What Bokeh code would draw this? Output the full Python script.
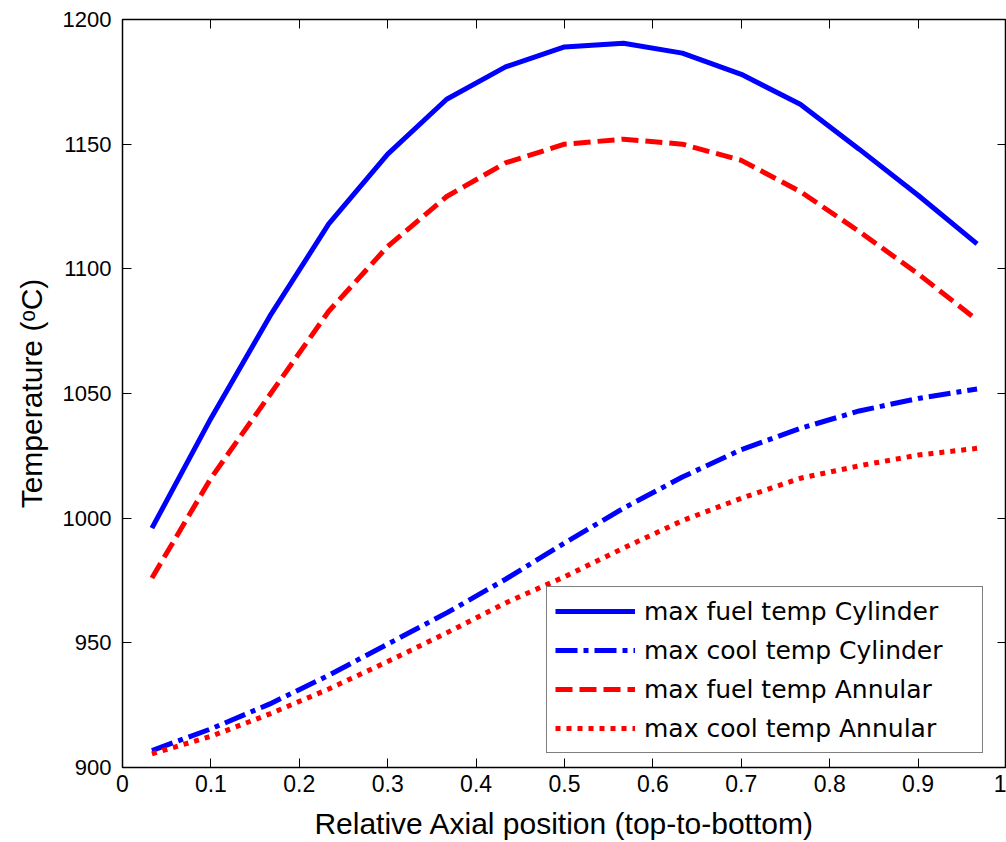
from bokeh.plotting import figure
from bokeh.models import Range1d, FixedTicker, LinearAxis, Legend, LegendItem
from bokeh.embed import file_html
from bokeh.resources import INLINE

# ---- data ----
x_pos = [0.0333, 0.1, 0.1667, 0.2333, 0.3, 0.3667, 0.4333, 0.5,
         0.5667, 0.6333, 0.7, 0.7667, 0.8333, 0.9, 0.9667]
fuel_cyl = [996, 1040, 1081, 1118, 1146, 1168, 1181, 1189,
            1190.5, 1186.5, 1178, 1166, 1148, 1129.5, 1110]
cool_cyl = [906.8, 915.5, 925.5, 937, 949.5, 962, 975.5, 990,
            1004, 1016.5, 1027.5, 1036, 1043, 1048, 1051.8]
fuel_ann = [976, 1016, 1049.5, 1083, 1109, 1129, 1142.5, 1150,
            1152, 1150, 1143.5, 1131, 1115, 1098, 1079.5]
cool_ann = [905.5, 912.5, 921.5, 931.5, 942.5, 954, 966, 976.5,
            988, 999, 1008, 1016, 1021, 1025.3, 1028]

series_names = ["max fuel temp Cylinder", "max cool temp Cylinder",
                "max fuel temp Annular", "max cool temp Annular"]

x_ticks = [0, 0.1, 0.2, 0.3, 0.4, 0.5, 0.6, 0.7, 0.8, 0.9, 1]
x_tick_labels = ["0", "0.1", "0.2", "0.3", "0.4", "0.5", "0.6", "0.7", "0.8", "0.9", "1"]
y_ticks = [900, 950, 1000, 1050, 1100, 1150, 1200]

x_label = "Relative Axial position (top-to-bottom)"
y_label = "Temperature (\u1d52C)"

# ---- figure ----
p = figure(width=1006, height=842,
           x_range=Range1d(0, 1), y_range=Range1d(900, 1200),
           output_backend="svg", toolbar_location=None,
           min_border_left=122, min_border_right=0,
           min_border_top=19, min_border_bottom=75)
p.background_fill_color = "white"
p.border_fill_color = "white"
p.grid.visible = False
p.outline_line_color = "black"
p.outline_line_width = 1.5

tick_font = "Liberation Sans"

xa = p.xaxis[0]
xa.ticker = FixedTicker(ticks=x_ticks)
xa.major_label_overrides = {t: l for t, l in zip(x_ticks, x_tick_labels)}
ya = p.yaxis[0]
ya.ticker = FixedTicker(ticks=y_ticks)

for ax in (xa, ya):
    ax.major_tick_in = 9
    ax.major_tick_out = 0
    ax.minor_tick_line_color = None
    ax.axis_line_color = "black"
    ax.major_tick_line_color = "black"
    ax.major_label_text_font = tick_font
    ax.major_label_text_color = "black"
    ax.axis_label_text_font = "Liberation Sans"
    ax.axis_label_text_font_size = "30px"
    ax.axis_label_text_font_style = "normal"
    ax.axis_label_text_color = "black"

xa.major_label_text_font_size = "23px"
ya.major_label_text_font_size = "22px"
xa.axis_label = x_label
xa.major_label_standoff = 7
xa.axis_label_standoff = 12
ya.axis_label = y_label
ya.major_label_standoff = 11
ya.axis_label_standoff = 12

# mirrored axes on top and right (tick marks only, labels not drawn)
top = LinearAxis(ticker=FixedTicker(ticks=x_ticks))
right = LinearAxis(ticker=FixedTicker(ticks=y_ticks))
for ax in (top, right):
    ax.major_tick_in = 9
    ax.major_tick_out = 0
    ax.minor_tick_line_color = None
    ax.axis_line_color = "black"
    ax.major_tick_line_color = "black"
    ax.major_label_text_font_size = "1px"
    ax.major_label_text_color = None
    ax.major_label_standoff = 0
p.add_layout(top, "above")
p.add_layout(right, "right")

# ---- lines ----
lw = 5
r1 = p.line(x_pos, fuel_cyl, line_color="#0000FF", line_width=lw)
r2 = p.line(x_pos, cool_cyl, line_color="#0000FF", line_width=lw, line_dash="22 6 5 6")
r3 = p.line(x_pos, fuel_ann, line_color="#FF0000", line_width=lw, line_dash="17 7")
r4 = p.line(x_pos, cool_ann, line_color="#FF0000", line_width=lw, line_dash="5 6")

legend = Legend(items=[LegendItem(label=n, renderers=[r]) for n, r in
                       zip(series_names, [r1, r2, r3, r4])],
                location=(424, 14))
legend.label_text_font = "DejaVu Sans"
legend.label_text_font_size = "25px"
legend.label_text_color = "black"
legend.glyph_width = 80
legend.glyph_height = 32
legend.label_height = 32
legend.label_width = 330
legend.label_standoff = 9
legend.spacing = 7
legend.padding = 8
legend.margin = 0
legend.border_line_color = "black"
legend.border_line_width = 1.5
legend.background_fill_color = "white"
legend.background_fill_alpha = 1.0
p.add_layout(legend, "center")

open("out.html", "w").write(file_html(p, INLINE))
